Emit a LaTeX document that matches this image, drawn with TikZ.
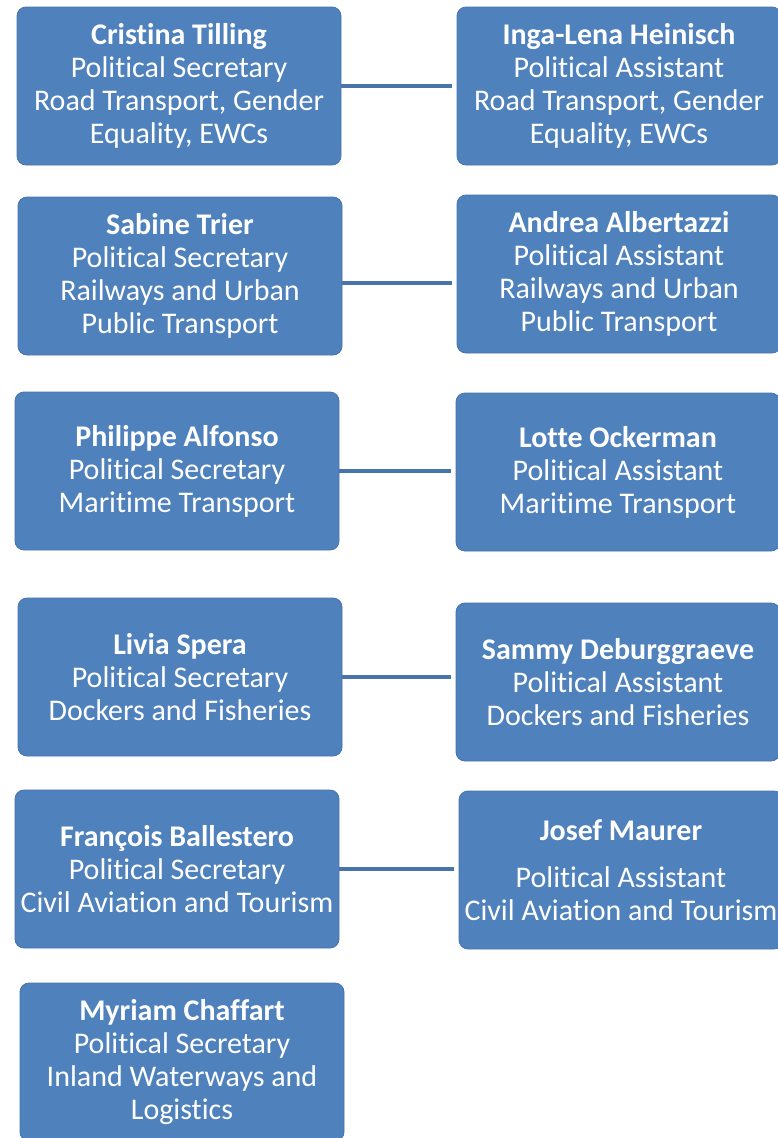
\documentclass[tikz,border=0pt]{standalone}
\usepackage{fontspec}
\setmainfont{Carlito}[Ligatures={NoCommon}]
\definecolor{boxblue}{HTML}{4F81BD}
\definecolor{boxedge}{HTML}{4674AB}

\begin{document}
\begin{tikzpicture}[x=1pt, y=-1pt,
	box/.style={draw=boxedge, line width=0.8pt, fill=boxblue, rounded corners=9pt,
		minimum width=324pt, minimum height=158pt, inner sep=0pt,
		text=white, align=center, font=\fontsize{30}{33}\selectfont},
	link/.style={draw=boxedge, line width=4.5pt, shorten >=5pt}]
	\useasboundingbox (0,0) rectangle (778,1138);

	% secretaries
	\node[box] (tilling) at (179,86) {\textbf{Cristina Tilling}\\Political Secretary\\Road Transport, Gender\\Equality, EWCs};
	\node[box] (trier) at (180,276) {\textbf{Sabine Trier}\\Political Secretary\\Railways and Urban\\Public Transport};
	\node[box] (alfonso) at (177,471) {\textbf{Philippe Alfonso}\\Political Secretary\\Maritime Transport};
	\node[box] (spera) at (180,677) {\textbf{Livia Spera}\\Political Secretary\\Dockers and Fisheries};
	\node[box] (ballestero) at (177,869) {\textbf{François Ballestero}\\Political Secretary\\Civil Aviation and Tourism};
	\node[box] (chaffart) at (182,1062) {\textbf{Myriam Chaffart}\\Political Secretary\\Inland Waterways and\\Logistics};

	% assistants
	\node[box] (heinisch) at (619,86) {\textbf{Inga-Lena Heinisch}\\Political Assistant\\Road Transport, Gender\\Equality, EWCs};
	\node[box] (albertazzi) at (619,274) {\textbf{Andrea Albertazzi}\\Political Assistant\\Railways and Urban\\Public Transport};
	\node[box] (ockerman) at (618,472) {\textbf{Lotte Ockerman}\\Political Assistant\\Maritime Transport};
	\node[box] (deburggraeve) at (618,682) {\textbf{Sammy Deburggraeve}\\Political Assistant\\Dockers and Fisheries};
	\node[box] (maurer) at (621,870) {\textbf{Josef Maurer}\\[14pt]Political Assistant\\Civil Aviation and Tourism};

	\draw[link] (tilling) -- (heinisch);
	\draw[link] (trier.east |- 0,283) -- (albertazzi.west |- 0,283);
	\draw[link] (alfonso) -- (alfonso.east -| ockerman.west);
	\draw[link] (spera) -- (spera.east -| deburggraeve.west);
	\draw[link] (ballestero) -- (ballestero.east -| maurer.west);
\end{tikzpicture}
\end{document}
